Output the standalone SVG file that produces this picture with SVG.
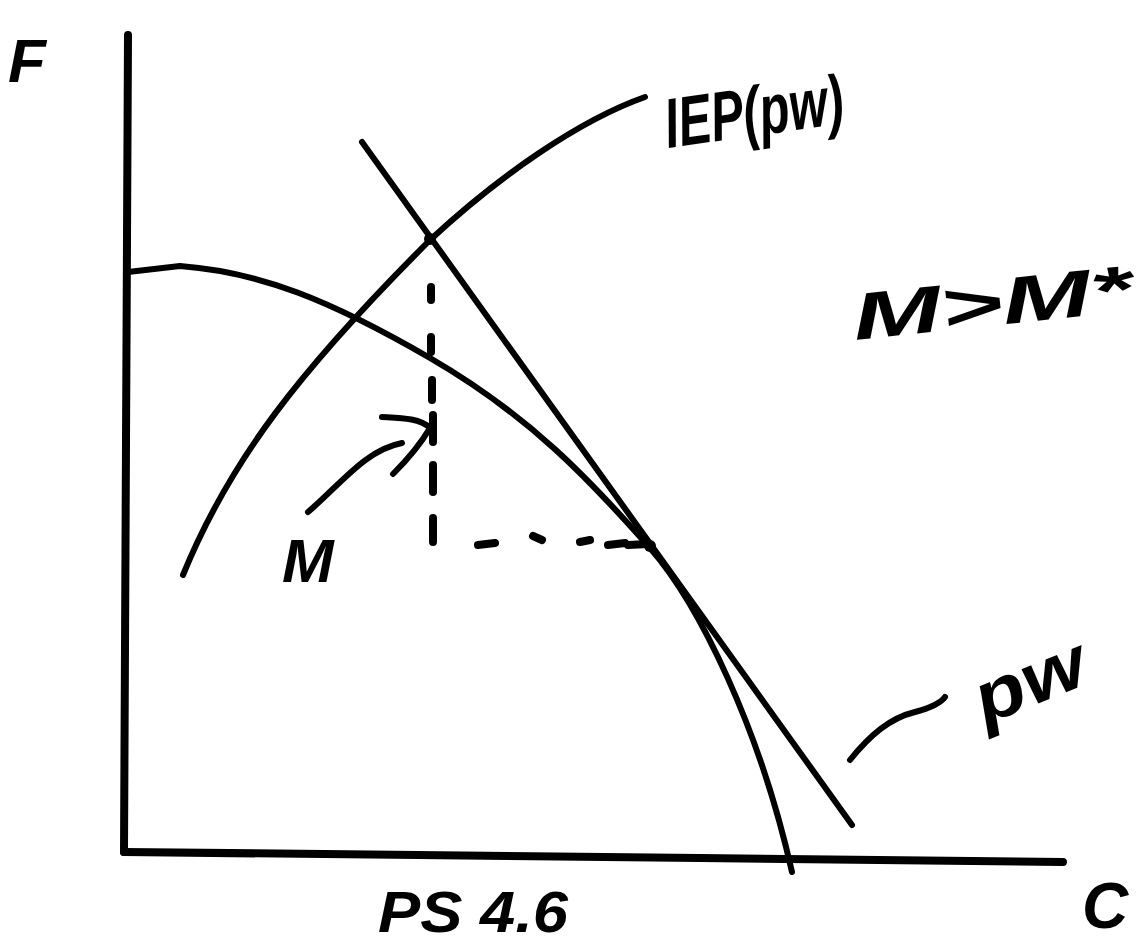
<svg xmlns="http://www.w3.org/2000/svg" width="1148" height="951" viewBox="0 0 1148 951">
<style>
.ln{fill:none;stroke:#000;stroke-width:6;stroke-linecap:round;stroke-linejoin:round}
.th{stroke-width:8}
.ds{fill:none;stroke:#000;stroke-width:8;stroke-linecap:round}
.tx{font-family:"Liberation Sans",Arial,sans-serif;font-style:italic;font-weight:bold;fill:#000}
</style>
<rect width="1148" height="951" fill="#fff"/>
<g id="axes">
<path class="ln th" d="M128,35 L124,852"/>
<path class="ln th" d="M124,852 L700,858 L1063,862"/>
</g>
<g id="labels">
<text class="tx" x="8" y="82" font-size="62" font-style="normal">F</text>
<text class="tx" x="1082" y="928" font-size="64" font-style="normal">C</text>
<text class="tx" x="378" y="932" font-size="58" textLength="190" lengthAdjust="spacingAndGlyphs">PS 4.6</text>
<text class="tx" x="668" y="148" font-size="70" transform="rotate(-8 668 148)" textLength="180" lengthAdjust="spacingAndGlyphs">IEP(pw)</text>
<text class="tx" x="855" y="340" font-size="66" transform="rotate(-6 855 340)" textLength="280" lengthAdjust="spacingAndGlyphs">M&gt;M*</text>
<text class="tx" x="282" y="582" font-size="62">M</text>
<text class="tx" x="985" y="725" font-size="72" transform="rotate(-22 985 725)" textLength="115" lengthAdjust="spacingAndGlyphs">pw</text>
</g>
<g id="connectors">
<path id="ppf" class="ln" d="M128,272 L180,266 C260,272 330,300 430,358 S590,480 650,548 C700,605 760,730 792,872"/>
<path id="iep" class="ln" d="M183,575 C230,460 300,370 430,240 C500,175 580,120 645,97"/>
<path id="tangent" class="ln" d="M362,142 L852,825"/>
<path id="vdash" class="ds" d="M431,287 L431,300 M431,337 L431,352 M432,380 L432,400 M433,415 L433,442 M433,465 L433,492 M433,518 L433,542"/>
<path id="hdash" class="ds" d="M478,545 L495,543 M533,536 L542,540 M580,542 L590,540 M608,545 L625,543 M628,545 L648,544"/>
<path id="mArrow" class="ln" d="M308,512 C340,485 365,450 402,443 M382,417 C400,418 420,418 430,428 C420,445 405,462 393,474"/>
<path id="pwTilde" class="ln" d="M850,760 C870,735 890,718 915,712 C930,708 940,704 945,697"/>
</g>
<g id="points">
<circle cx="430" cy="239" r="6"/>
<circle cx="650" cy="546" r="6"/>
</g>
</svg>
